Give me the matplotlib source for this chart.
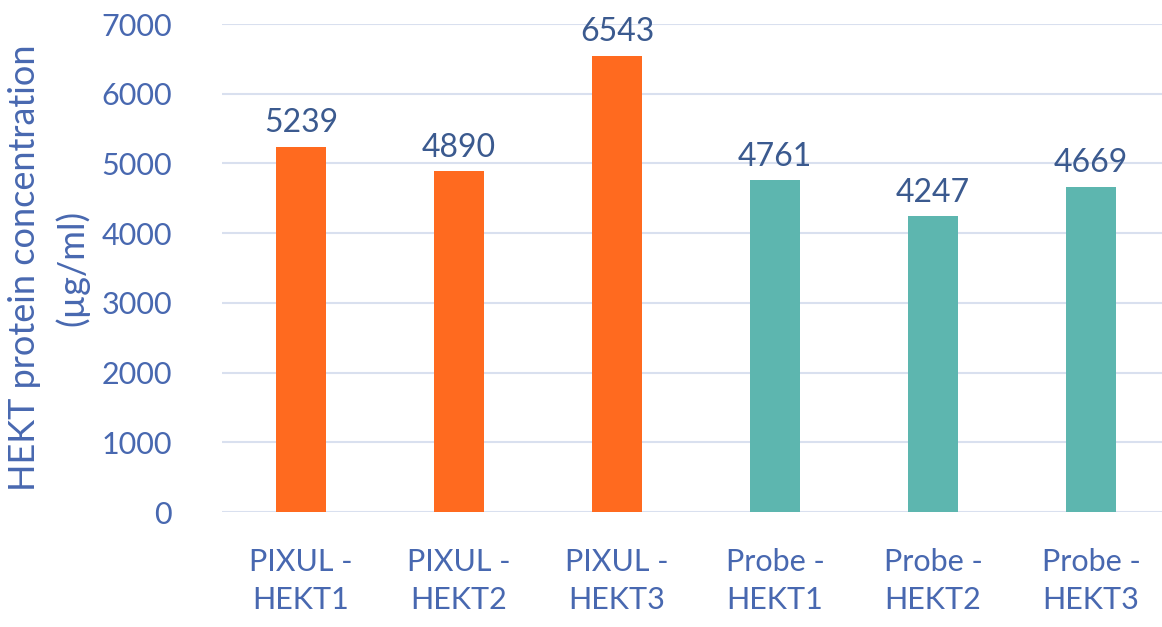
import matplotlib.pyplot as plt

categories = ["PIXUL -\nHEKT1", "PIXUL -\nHEKT2", "PIXUL -\nHEKT3",
              "Probe -\nHEKT1", "Probe -\nHEKT2", "Probe -\nHEKT3"]
values = [5239, 4890, 6543, 4761, 4247, 4669]
groups = ["PIXUL", "PIXUL", "PIXUL", "Probe", "Probe", "Probe"]
y_ticks = [0, 1000, 2000, 3000, 4000, 5000, 6000, 7000]

group_colors = {"PIXUL": "#FF6A1F", "Probe": "#5DB6AF"}
tick_color = "#4868B0"
label_color = "#3B5A8F"
grid_color = "#D9E0EF"

plt.rcParams["font.family"] = ["Lato", "DejaVu Sans"]

fig = plt.figure(figsize=(11.62, 6.27), dpi=100)
ax = fig.add_axes([222 / 1162, 115 / 627, 940 / 1162, 488 / 627])

x = list(range(len(values)))
bars = ax.bar(x, values, width=0.32,
              color=[group_colors[g] for g in groups], zorder=3)

for rect, v in zip(bars, values):
    ax.text(rect.get_x() + rect.get_width() / 2, v + 120, str(v),
            ha="center", va="bottom", fontsize=23, color=label_color,
            clip_on=False, zorder=4)

ax.set_xlim(-0.5, -0.5 + 940 / 158)
ax.set_ylim(0, 7000)
ax.set_yticks(y_ticks)
ax.set_xticks(x)
ax.set_xticklabels(categories, linespacing=1.45)
ax.tick_params(axis="y", length=0, pad=36, labelsize=22, labelcolor=tick_color)
ax.tick_params(axis="x", length=0, pad=26, labelsize=22, labelcolor=tick_color)

ax.grid(axis="y", color=grid_color, linewidth=1.5, zorder=0)
for s in ax.spines.values():
    s.set_visible(False)

fig.text(25 / 1162, 1 - 268 / 627, "HEKT protein concentration",
         rotation=90, ha="center", va="center", fontsize=26, color=tick_color)
fig.text(72 / 1162, 1 - 268 / 627, "(µg/ml)",
         rotation=90, ha="center", va="center", fontsize=26, color=tick_color)

fig.savefig("out.png", dpi=100, facecolor="white")
